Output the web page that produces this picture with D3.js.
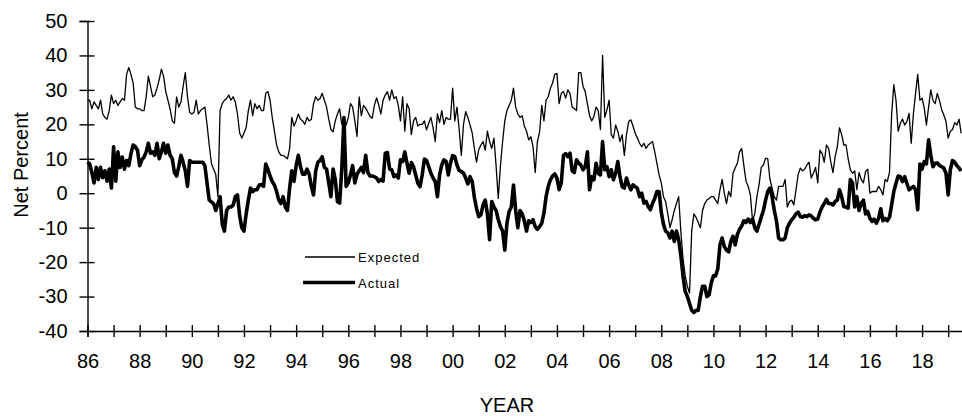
<!DOCTYPE html>
<head>
   <meta charset="utf-8">
   <script src="https://d3js.org/d3.v7.min.js"></script>
   <style>
   body{ margin: 0; }
   text{
      font-family: "Liberation Sans", Arial, sans-serif;
      fill: #000;
   }
   .axis text{ font-size: 20px; }
   .axis path, .axis line{ stroke: #000; stroke-width: 1.4px; }
   text.axisTitle{ font-size: 20px; }
   text.legend{ font-size: 13px; letter-spacing: 1px; }
   </style>
   <title>Expected vs Actual</title>
</head>
<body>
<script>
const width  = 962;
const height = 416;
const startYear = 1986;   // first monthly value = Jan 1986

// monthly net percent, one row per year
const expected = [
  27, 27, 24.5, 26.5, 25.5, 24.5, 27, 23, 22, 21.5, 24, 28.5,      // 86
  26, 27, 25.5, 26.5, 27.5, 27, 34.5, 36.5, 34.5, 32, 25, 24.5,    // 87
  24.5, 24, 24, 28, 34, 31, 28, 28.5, 30.5, 33, 36, 34,            // 88
  29.5, 27, 24.5, 21, 20.3, 28, 25, 26.5, 31, 35, 28, 23.5,        // 89
  23, 23.5, 27, 23, 24, 24.5, 25, 20, 14, 8.7, 7, 5.5,             // 90
  -1, 24, 26, 27, 27.5, 28.5, 27, 28, 26.5, 23, 17.5, 16,          // 91
  17.5, 19, 24, 27, 22.5, 26, 24.5, 25.5, 24, 24, 29, 29.5,        // 92
  27, 22, 18, 14, 12, 11, 11, 10.5, 10, 13, 22, 19.5,              // 93
  21, 23, 21.5, 21, 20, 22, 21, 21.5, 26, 28, 27, 27.5,            // 94
  29, 27, 25, 21.5, 18.5, 17.8, 21, 23, 24.5, 20, 19.8, 19.8,      // 95
  22, 26, 25, 21, 16.5, 28, 22.5, 25.5, 24.7, 23.5, 22.3, 21.8,    // 96
  25.5, 27.7, 25.6, 23, 27, 28.5, 29.5, 27, 30, 27.5, 28, 25.5,    // 97
  21, 28, 18, 26, 24.5, 17, 21, 22, 19.5, 20, 20, 21,              // 98
  18.4, 20.3, 22, 19, 15, 23, 20.5, 24, 20, 22, 21.5, 21.5,        // 99
  30.5, 21, 25, 18.5, 11, 20, 23.7, 22, 19.8, 17.5, 13, 9,         // 00
  12.6, 14, 15, 12.5, 18, 15, 13, 16, 8, -1.5, 8, 15,              // 01
  21, 24, 25.5, 27, 30.5, 25, 23, 22, 22.5, 19.5, 18, 15.5,        // 02
  16.4, 13.5, 6, 15, 17.7, 25.5, 21, 27, 28, 30.5, 32, 34.5,       // 03
  34.8, 26, 29, 29.5, 27.6, 30, 29, 25, 24.5, 24, 35, 35,          // 04
  31, 29.5, 26, 22.5, 21, 22.3, 25, 24, 18.5, 40, 22, 24.2,        // 05
  27, 17, 16, 19.8, 18, 15, 17, 11, 17, 20.8, 21.3, 19.5,          // 06
  17.4, 16, 14.5, 13.5, 14.5, 13, 14, 14.5, 15, 12, 8.7, 5.3,      // 07
  3, -1, -2.4, -6, -10, -7.7, -5, -3, -1, -11, -19, -24,           // 08
  -27, -29, -11, -6, -7, -8.5, -10, -5, -3, -2, -1.5, -1,          // 09
  -1, -2, -3, 1, 4, 0, -3, 0.5, -1, 5.8, 7.3, 8.7,                 // 10
  12, 13, 8, 3.5, 2, -0.5, -8, -6, -1, 2.5, 7.5, 8.2,              // 11
  10.2, 10, 4, 1.5, -1, -2, 2, 2, 2, 4, -4, -2.4,                  // 12
  -2, -3.4, 1, 5.5, 7.3, 6.5, 7, 8.2, 9, 4.4, 5.8, 7.5,            // 13
  3, 12.5, 11.6, 9, 14, 13, 9, 6, 10.6, 13.5, 19, 17,              // 14
  14, 14, 10, 6.8, 5.8, 6.5, 1, 6, 4, 3, 6.3, 7,                   // 15
  0, 0.5, 0.5, 0.5, 2, 1, -0.5, 4, 3.4, 6, 23, 31.5,               // 16
  27, 18, 20.3, 21.5, 19.8, 20.8, 23.2, 14.5, 23, 29, 34.5, 27,    // 17
  27.6, 24.7, 19.8, 25, 30, 27, 26, 29, 27, 24.2, 22.7, 20.8,      // 18
  16, 18, 18.5, 20.5, 19.8, 21.5, 17.4                             // 19
];

const actual = [
  9, 8.5, 6, 3, 7.5, 4, 7.5, 4.5, 6.5, 3.5, 7, 1.5,                // 86
  13.5, 3.5, 12, 7.5, 10.5, 7, 9.5, 8, 11.5, 14, 13.5, 12.5,       // 87
  8, 9.7, 10.5, 12, 14.5, 11.6, 12, 11, 14.5, 10, 12, 14.5,        // 88
  11.6, 14, 11, 10, 6, 5, 7.7, 11, 9, 6.5, 2, 9.5,                 // 89
  9, 9, 9, 9, 9, 9, 8, 3, -2, -2.5, -3, -5,                        // 90
  -3, -1, -9, -11, -5, -4, -4, -3.5, -1, -0.5, -6.5, -10,          // 91
  -11, -6, -2, 1.5, 0.5, 1, 1, 2.4, 2.5, 2, 8.5, 7,                // 92
  5, 3.4, 2.4, 0.5, -2, -3, -1, -4, -5, 1.5, 6.5, 3.4,             // 93
  8, 11, 7.7, 5.5, 5.5, 7, 5.5, 2, -0.5, 6.5, 9, 9.5,              // 94
  10.6, 7.5, 7, 3, -1, 7, 4, -2.4, -2.9, 7, 22, 2,                 // 95
  3, 5.3, 8, 3, 5.5, 6.5, 7.5, 6, 11, 6, 5, 5,                     // 96
  4.8, 4.4, 3.4, 4, 3.5, 11.6, 11.8, 7, 6.8, 4.8, 5.3, 4.4,        // 97
  9.7, 9.2, 12, 8.7, 5.8, 8.9, 7.7, 5.3, 2.9, 1.9, 5.3, 9.9,       // 98
  9.5, 7.7, 5.8, 4.4, 3.4, -1, 5.3, 8.2, 9.7, 9.2, 5.3, 8.7,       // 99
  10.9, 10.6, 8.2, 6.6, 6.3, 5.8, 4.4, 2.7, 4.8, 3.4, -1.2, -4.4,  // 00
  -6.8, -6.3, -3.4, -2, -6, -13.5, -2.4, -4, -5, -7.7, -9.7, -11,  // 01
  -16.5, -8.7, -5.3, -4, 2.4, -5, -10, -5, -6, -8, -11, -8,        // 02
  -8.5, -7.7, -9.7, -10.5, -9.7, -8.7, -5.8, -1, 2, 3.9, 5, 5.6,   // 03
  4.4, 1, 3, 11, 11.5, 10.6, 11.6, 6.5, 6, 9.7, 8.7, 8.2,          // 04
  6.8, 7.7, 12, 1, 4.8, 3.9, 8.7, 5.8, 5.3, 15, 6.8, 7.7,          // 05
  4.8, 6.8, 3.9, 5.8, 9.2, 4.8, 1.9, 1.5, 4.4, 2.4, 1, 2.4,        // 06
  1.9, 1.4, -1, 0, -2.9, -2.4, -3.9, -4.8, -2.9, -1.5, 0.5, 0.5,   // 07
  -5.5, -9, -11, -11.5, -13, -11, -14, -11, -13.5, -18, -24, -28.5,// 08
  -30, -32, -34, -34.6, -34, -34, -30, -27, -27, -30, -29.5, -26,  // 09
  -24, -24, -22, -15, -13, -15.5, -16.5, -17, -14, -12.5, -15, -12,// 10
  -10.5, -9.5, -8, -8.5, -7.5, -8.5, -7.5, -10, -11, -9, -7, -5,   // 11
  -2, 0.5, 1.5, -1, -5, -8, -13, -13.5, -13.5, -13, -10, -8.7,     // 12
  -7.7, -7, -6, -5.5, -6.8, -7, -6.5, -6.8, -6.3, -6.6, -7.3, -7.7,// 13
  -7.5, -5.5, -4, -3, -1.8, -3, -3, -3.4, -2.4, -2, 1, -1,         // 14
  -3.9, -4, -4.3, 4, 3, -4, -1, -5, -3, -2, -6, -5.3,              // 15
  -7.3, -8.2, -7.5, -8.7, -7.3, -4.5, -8, -7.3, -8, -7, -3.4, 0.5, // 16
  2.9, 5, 4.8, 3.4, 4.8, 2.9, 1, 1.5, 2, 1, -4.8, 8.5,             // 17
  7, 9.2, 8.5, 15.5, 11, 7.7, 8.7, 8.8, 8, 7.7, 7.3, 5.8,          // 18
  -0.5, 6.8, 9.5, 9, 8, 7.3, 6.5                                   // 19
];

const yTicks = [-40, -30, -20, -10, 0, 10, 20, 30, 40, 50];
const yearTicks = d3.range(1986, 2020);
const yearLabels = ['86','88','90','92','94','96','98','00','02','04','06','08','10','12','14','16','18'];
const seriesNames = ['Expected', 'Actual'];

const svg = d3.select('body').append('svg')
   .attr('width', width)
   .attr('height', height);

const x = d3.scaleLinear()
   .domain([startYear, 2019.55])
   .range([87.5, 962.5]);

const y = d3.scaleLinear()
   .domain([-40, 50])
   .range([331, 21]);

const t = i => startYear + i/12;

// x axis, ticks every year, labels every other year
const xAxis = d3.axisBottom(x)
   .tickValues(yearTicks)
   .tickSizeOuter(0)
   .tickSize(6)
   .tickFormat(d => (d % 2 == 0) ? yearLabels[(d - startYear)/2] : '');

const gx = svg.append('g')
   .attr('class', 'axis xAxis')
   .attr('transform', `translate(0, ${y(-40)})`)
   .call(xAxis);
gx.selectAll('.tick line').attr('y1', -6).attr('y2', 6);
gx.selectAll('.tick text').attr('y', 23);

const yAxis = d3.axisLeft(y)
   .tickValues(yTicks)
   .tickSizeOuter(0)
   .tickSize(8)
   .tickFormat(d => String(d));   // plain hyphen, like the original

const gy = svg.append('g')
   .attr('class', 'axis yAxis')
   .attr('transform', `translate(${x(startYear)}, 0)`)
   .call(yAxis);
gy.selectAll('.tick line').attr('x1', -8).attr('x2', 7);
gy.selectAll('.tick text').attr('x', -20);

svg.append('text')
   .attr('class', 'axisTitle')
   .attr('transform', 'translate(28, 165) rotate(-90)')
   .style('text-anchor', 'middle')
   .text('Net Percent');

svg.append('text')
   .attr('class', 'axisTitle')
   .attr('x', 507)
   .attr('y', 412)
   .style('text-anchor', 'middle')
   .text('YEAR');

const line = d3.line()
   .x((d, i) => x(t(i)))
   .y(d => y(d));

svg.append('path')
   .datum(expected)
   .attr('d', line)
   .attr('fill', 'none')
   .attr('stroke', '#000')
   .attr('stroke-width', 1.3)
   .attr('stroke-linejoin', 'round');

svg.append('path')
   .datum(actual)
   .attr('d', line)
   .attr('fill', 'none')
   .attr('stroke', '#000')
   .attr('stroke-width', 3.6)
   .attr('stroke-linejoin', 'round');

// legend
const legend = svg.append('g').attr('transform', 'translate(304, 257)');
seriesNames.forEach((name, i) => {
   legend.append('line')
      .attr('x1', i == 0 ? 1 : -1).attr('x2', 51)
      .attr('y1', i*25.5).attr('y2', i*25.5)
      .attr('stroke', '#000')
      .attr('stroke-width', i == 0 ? 1.3 : 3.6);
   legend.append('text')
      .attr('class', 'legend')
      .attr('x', 54)
      .attr('y', i*25.5 + 5)
      .text(name);
});
</script>
</body>
